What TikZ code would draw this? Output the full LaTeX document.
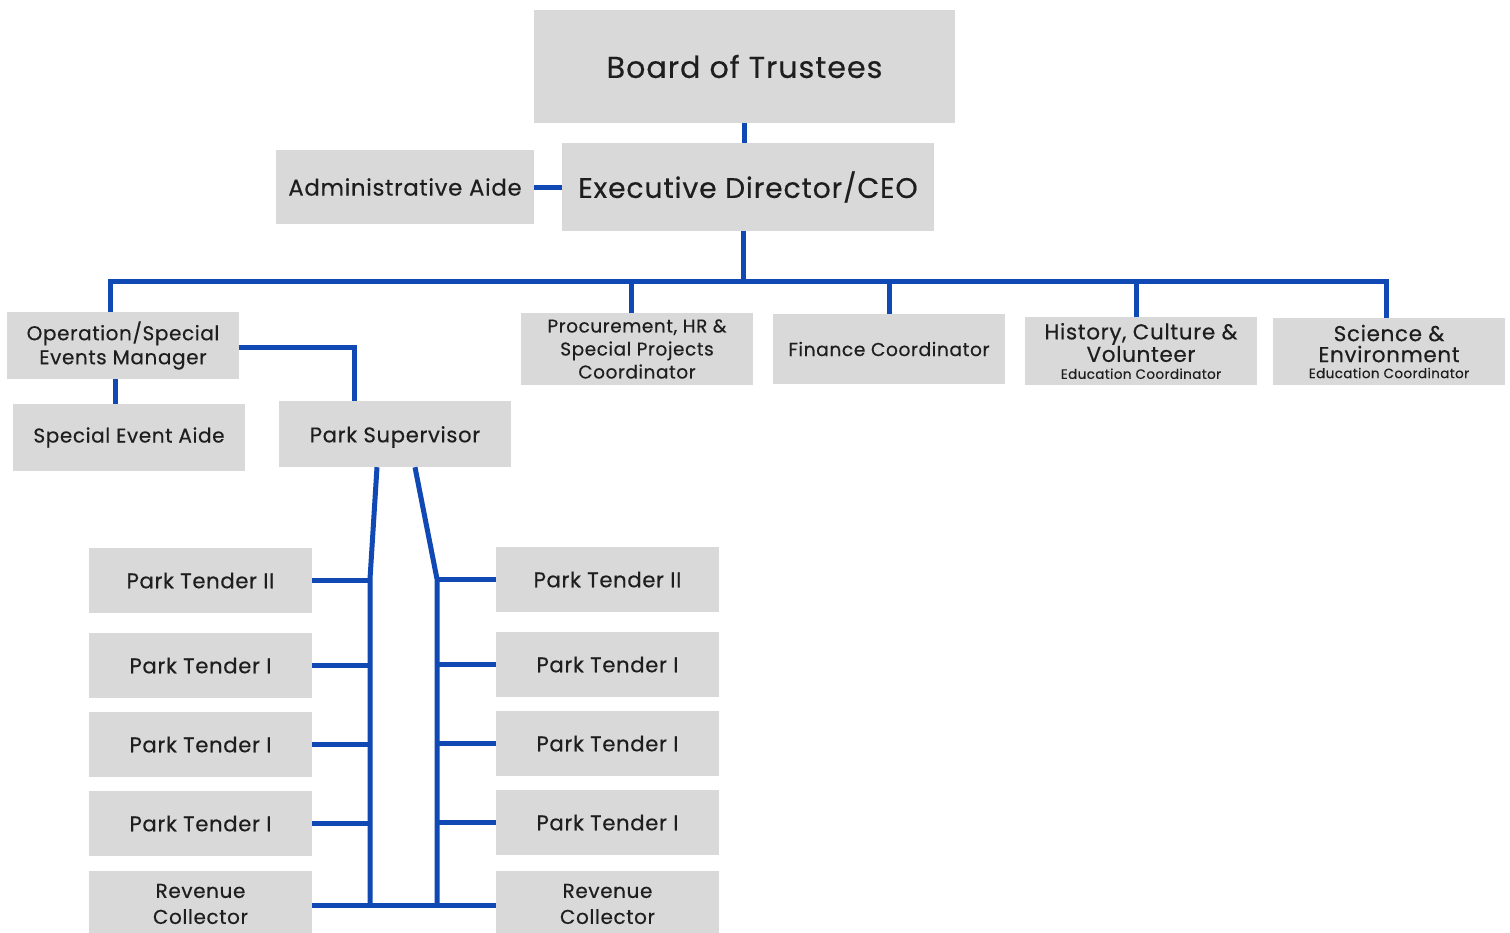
\documentclass[tikz,border=0pt]{standalone}
\usepackage{fontspec}
\setmainfont{Poppins}[LetterSpace=3,FakeBold=0.35]
\definecolor{boxgray}{RGB}{217,217,217}
\definecolor{linkblue}{RGB}{16,72,180}
\definecolor{txt}{RGB}{30,30,30}
\newcommand{\bigf}{\fontsize{21.5}{21}\selectfont}
\newcommand{\smallf}{\fontsize{13.5}{14}\selectfont}
\begin{document}
\begin{tikzpicture}[x=1pt,y=-1pt,
  box/.style={fill=boxgray,inner sep=0pt,align=center,text=txt},
  conn/.style={draw=linkblue,line width=5pt},
  fA/.style={font=\fontsize{30.3}{32}\selectfont},
  fB/.style={font=\fontsize{22.8}{24}\selectfont},
  fC/.style={font=\fontsize{20}{24}\selectfont},
  fT/.style={font=\fontsize{21.2}{24}\selectfont},
  fD/.style={font=\fontsize{18.5}{23}\selectfont},
]
\clip (0,0) rectangle (1510,932);
\useasboundingbox (0,0) rectangle (1510,932);
\fill[white] (0,0) rectangle (1510,932);

\node[box,fA,minimum width=421pt,minimum height=113pt] (board) at (744.5,66.5) {Board of Trustees};
\node[box,font=\fontsize{28.3}{30}\selectfont,minimum width=372pt,minimum height=88pt] (exec) at (748,187) {Executive Director/CEO};
\node[box,fB,minimum width=258pt,minimum height=74pt] (admin) at (405,187) {Administrative Aide};

\node[box,fC,minimum width=232pt,minimum height=67pt] (ops) at (123,345.5) {Operation/Special\\[0pt]Events Manager};
\node[box,fC,minimum width=232pt,minimum height=67pt] (sea) at (129,437.5) {Special Event Aide};
\node[box,minimum width=232pt,minimum height=66pt,
  label={[fT,text=txt,yshift=-3pt]center:Park Supervisor}] (ps) at (395,434) {};

\node[box,fD,minimum width=232pt,minimum height=72pt] (proc) at (637,349) {Procurement, HR \&\\Special Projects\\Coordinator};
\node[box,font=\fontsize{18.7}{23}\selectfont,minimum width=232pt,minimum height=70pt] (fin) at (889,349) {Finance Coordinator};
\node[box,font=\bigf,minimum width=232pt,minimum height=68pt] (hist) at (1141,351) {History, Culture \&\\Volunteer\\[-4pt]\smallf Education Coordinator};
\node[box,font=\bigf,minimum width=232pt,minimum height=67pt] (sci) at (1389,351.5) {Science \&\\Environment\\[-5pt]\smallf Education Coordinator};

\foreach \n/\y/\t in {lt1/580.5/Park Tender II, lt2/665.5/Park Tender I, lt3/744.5/Park Tender I, lt4/823.5/Park Tender I}
  \node[box,fT,minimum width=223pt,minimum height=65pt] (\n) at (200.5,\y) {\t};
\node[box,fC,minimum width=223pt,minimum height=66pt] (lrc) at (200.5,904) {Revenue\\[2pt]Collector};
\foreach \n/\y/\t in {rt1/579.5/Park Tender II, rt2/664.5/Park Tender I, rt3/743.5/Park Tender I, rt4/822.5/Park Tender I}
  \node[box,fT,minimum width=223pt,minimum height=65pt] (\n) at (607.5,\y) {\t};
\node[box,fC,minimum width=223pt,minimum height=66pt] (rrc) at (607.5,904) {Revenue\\[2pt]Collector};

% connectors
\coordinate (busc) at (743,281);
\draw[conn] ([xshift=-0.5pt]board.south) -- ([xshift=-0.5pt]board.south |- exec.north);
\draw[conn] (admin.east) -- (exec.west);
\draw[conn] ([xshift=-5pt]exec.south) -- (busc);
\draw[conn] ([xshift=-13pt]ops.north) |- ([xshift=-3pt]sci.north |- busc) -- ([xshift=-3pt]sci.north);
\draw[conn] ([xshift=-6pt]proc.north |- busc) -- ([xshift=-6pt]proc.north);
\draw[conn] (fin.north |- busc) -- (fin.north);
\draw[conn] ([xshift=-5pt]hist.north |- busc) -- ([xshift=-5pt]hist.north);

\draw[conn] ([yshift=-1.5pt]ops.east) -| ([xshift=-41pt]ps.north);
\draw[conn] ([xshift=-8pt]ops.south) -- ([xshift=-8pt]ops.south |- sea.north);

\coordinate (lj) at (370,579);
\coordinate (rj) at (437,579);
\coordinate (lb) at (370,905);
\coordinate (rb) at (437,905);
\draw[conn,line join=round] ([xshift=-18pt]ps.south) -- (lj) -- (lb);
\draw[conn,line join=round] ([xshift=20pt]ps.south) -- (rj) -- (rb);
\foreach \n in {lt1,lt2,lt3,lt4}
  \draw[conn] (\n.east) -- (\n.east -| lj);
\foreach \n in {rt1,rt2,rt3,rt4}
  \draw[conn] (\n.west) -- (\n.west -| rj);
\draw[conn] (lrc.east |- lb) -- (rrc.west |- rb);
\end{tikzpicture}
\end{document}
